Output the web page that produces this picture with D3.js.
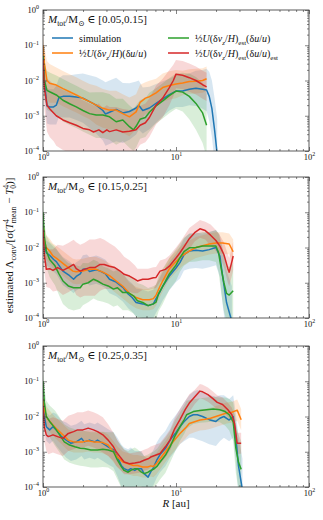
<!DOCTYPE html>
<html>
<head>
<meta charset="utf-8">
<script src="https://cdn.jsdelivr.net/npm/d3@7"></script>
<style>
  body { margin: 0; background: #fff; }
  svg text { font-family: "Liberation Serif", "DejaVu Serif", serif; fill: #111; }
</style>
</head>
<body>
<div class="chart"></div>
<script>
// each point: [log10 R, log10 value, half width of the shaded band in decades]
const p1Sim = [[0,-1.1,0.3],[0.01,-2.0,0.4],[0.03,-2.72,0.5],[0.05,-2.75,0.5],[0.08,-2.75,0.5],[0.1,-2.7,0.55],[0.12,-2.48,0.55],[0.15,-2.45,0.6],[0.2,-2.45,0.6],[0.25,-2.47,0.65],[0.3,-2.5,0.7],[0.35,-2.6,0.75],[0.4,-2.7,0.8],[0.45,-2.85,0.85],[0.47,-2.95,0.9],[0.5,-2.9,0.9],[0.55,-2.82,0.9],[0.6,-2.92,0.85],[0.65,-2.88,0.8],[0.7,-2.78,0.75],[0.72,-2.7,0.7],[0.75,-2.85,0.65],[0.8,-2.78,0.6],[0.85,-2.65,0.55],[0.9,-2.52,0.5],[0.95,-2.4,0.45],[1.0,-2.3,0.45],[1.05,-2.3,0.45],[1.1,-2.25,0.45],[1.15,-2.22,0.5],[1.2,-2.25,0.55],[1.23,-2.27,0.6],[1.25,-2.45,0.7],[1.27,-2.8,0.8],[1.29,-3.4,0.9],[1.31,-4.1,1.0]];
const p1Half = [[0,-1.0,0.3],[0.01,-1.5,0.45],[0.03,-2.0,0.55],[0.05,-2.08,0.55],[0.1,-2.13,0.5],[0.15,-2.23,0.5],[0.2,-2.32,0.5],[0.25,-2.41,0.5],[0.3,-2.51,0.5],[0.35,-2.6,0.5],[0.4,-2.7,0.55],[0.45,-2.79,0.55],[0.5,-2.84,0.55],[0.55,-2.84,0.55],[0.6,-2.94,0.55],[0.65,-3.03,0.55],[0.7,-2.89,0.5],[0.73,-2.62,0.5],[0.77,-2.5,0.45],[0.8,-2.46,0.45],[0.85,-2.35,0.4],[0.9,-2.2,0.4],[0.95,-2.14,0.4],[1.0,-2.1,0.4],[1.05,-2.07,0.35],[1.1,-2.03,0.35],[1.15,-2.02,0.35],[1.2,-2.0,0.35],[1.23,-1.95,0.35]];
const p1EstV = [[0,-1.3,0.3],[0.01,-2.0,0.5],[0.03,-2.28,0.55],[0.05,-2.32,0.55],[0.1,-2.41,0.55],[0.15,-2.56,0.6],[0.2,-2.66,0.6],[0.25,-2.75,0.6],[0.3,-2.85,0.6],[0.35,-2.94,0.6],[0.4,-2.98,0.65],[0.45,-2.98,0.65],[0.5,-3.03,0.65],[0.55,-3.17,0.65],[0.6,-3.12,0.6],[0.65,-3.31,0.6],[0.68,-3.4,0.6],[0.7,-3.3,0.6],[0.73,-3.1,0.55],[0.77,-3.05,0.55],[0.8,-2.9,0.55],[0.85,-2.72,0.5],[0.9,-2.58,0.5],[0.95,-2.43,0.5],[1.0,-2.3,0.5],[1.05,-2.33,0.55],[1.1,-2.45,0.65],[1.15,-2.65,0.75],[1.2,-2.92,0.85],[1.23,-3.27,0.9]];
const p1EstVU = [[0,-1.4,0.4],[0.01,-2.2,0.6],[0.03,-2.7,0.75],[0.05,-2.8,0.8],[0.08,-2.92,0.8],[0.1,-3.0,0.85],[0.15,-3.12,0.85],[0.2,-3.2,0.85],[0.25,-3.27,0.8],[0.3,-3.36,0.8],[0.35,-3.4,0.75],[0.38,-3.46,0.75],[0.42,-3.4,0.75],[0.45,-3.48,0.7],[0.48,-3.4,0.7],[0.5,-3.45,0.7],[0.55,-3.4,0.65],[0.6,-3.46,0.65],[0.65,-3.44,0.6],[0.7,-3.4,0.6],[0.73,-3.27,0.55],[0.77,-3.2,0.55],[0.8,-3.05,0.55],[0.85,-2.7,0.55],[0.9,-2.5,0.55],[0.95,-2.2,0.5],[0.98,-2.0,0.45],[1.0,-1.82,0.4],[1.05,-1.85,0.4],[1.1,-1.92,0.4],[1.15,-2.0,0.4],[1.2,-2.12,0.4],[1.23,-2.18,0.4]];

const p2Sim = [[0,-1.4,0.3],[0.01,-1.9,0.35],[0.025,-2.15,0.35],[0.05,-2.22,0.35],[0.08,-2.34,0.35],[0.1,-2.4,0.35],[0.15,-2.67,0.4],[0.2,-2.8,0.4],[0.23,-2.9,0.4],[0.25,-2.82,0.4],[0.28,-2.75,0.4],[0.3,-2.62,0.4],[0.33,-2.6,0.4],[0.35,-2.68,0.4],[0.4,-2.63,0.4],[0.43,-2.67,0.4],[0.47,-2.75,0.4],[0.5,-2.9,0.4],[0.55,-2.98,0.4],[0.6,-3.13,0.4],[0.64,-3.32,0.4],[0.67,-3.42,0.4],[0.7,-3.56,0.4],[0.75,-3.6,0.4],[0.79,-3.65,0.4],[0.83,-3.6,0.4],[0.85,-3.45,0.4],[0.88,-3.25,0.4],[0.9,-3.1,0.4],[0.95,-2.81,0.4],[1.0,-2.58,0.4],[1.03,-2.43,0.45],[1.06,-2.2,0.45],[1.1,-2.1,0.5],[1.15,-2.08,0.5],[1.2,-2.1,0.5],[1.25,-2.06,0.5],[1.3,-2.0,0.5],[1.33,-2.24,0.6],[1.35,-2.8,0.8],[1.38,-3.56,0.9],[1.42,-4.1,1.0]];
const p2Half = [[0,-1.3,0.3],[0.01,-1.8,0.35],[0.025,-2.0,0.35],[0.05,-2.1,0.35],[0.075,-2.24,0.35],[0.1,-2.3,0.35],[0.15,-2.45,0.35],[0.2,-2.6,0.35],[0.225,-2.67,0.35],[0.25,-2.69,0.35],[0.3,-2.67,0.35],[0.35,-2.62,0.35],[0.4,-2.62,0.35],[0.45,-2.7,0.35],[0.5,-2.8,0.35],[0.55,-2.95,0.35],[0.6,-3.1,0.35],[0.65,-3.3,0.3],[0.7,-3.42,0.3],[0.75,-3.48,0.3],[0.8,-3.48,0.3],[0.83,-3.45,0.3],[0.85,-3.35,0.3],[0.88,-3.1,0.3],[0.9,-2.95,0.3],[0.95,-2.6,0.3],[1.0,-2.4,0.3],[1.05,-2.22,0.3],[1.1,-2.1,0.3],[1.15,-2.0,0.3],[1.2,-1.95,0.3],[1.25,-1.9,0.3],[1.3,-1.87,0.3],[1.35,-1.87,0.3],[1.4,-1.9,0.3],[1.43,-2.12,0.35]];
const p2EstV = [[0,-1.0,0.3],[0.01,-1.7,0.4],[0.025,-2.1,0.45],[0.05,-2.34,0.5],[0.09,-2.52,0.55],[0.12,-2.75,0.6],[0.15,-2.95,0.65],[0.19,-3.09,0.65],[0.23,-3.14,0.65],[0.28,-3.14,0.6],[0.3,-3.04,0.6],[0.34,-3.0,0.55],[0.38,-2.9,0.55],[0.41,-2.95,0.55],[0.45,-3.04,0.5],[0.49,-3.09,0.5],[0.53,-3.18,0.5],[0.56,-3.14,0.5],[0.6,-3.28,0.5],[0.64,-3.28,0.5],[0.68,-3.37,0.5],[0.71,-3.51,0.5],[0.75,-3.56,0.5],[0.79,-3.65,0.5],[0.83,-3.6,0.5],[0.85,-3.55,0.5],[0.87,-3.3,0.5],[0.9,-3.1,0.5],[0.95,-2.75,0.45],[1.0,-2.5,0.45],[1.03,-2.29,0.4],[1.06,-2.12,0.4],[1.1,-2.01,0.4],[1.15,-2.0,0.4],[1.2,-1.96,0.4],[1.25,-1.96,0.4],[1.3,-1.96,0.45],[1.32,-2.15,0.55],[1.34,-2.6,0.7],[1.36,-3.0,0.8],[1.38,-3.3,0.8],[1.4,-3.35,0.8],[1.43,-3.23,0.8]];
const p2EstVU = [[0,-1.5,0.3],[0.01,-2.2,0.45],[0.025,-2.62,0.5],[0.05,-2.6,0.55],[0.075,-2.65,0.6],[0.11,-2.57,0.65],[0.15,-2.65,0.7],[0.19,-2.57,0.7],[0.23,-2.48,0.7],[0.25,-2.6,0.75],[0.28,-2.67,0.75],[0.31,-2.62,0.75],[0.35,-2.57,0.8],[0.39,-2.57,0.8],[0.43,-2.48,0.75],[0.46,-2.48,0.7],[0.5,-2.53,0.65],[0.54,-2.57,0.6],[0.58,-2.67,0.55],[0.61,-2.76,0.5],[0.65,-2.81,0.45],[0.69,-2.9,0.4],[0.71,-2.95,0.35],[0.75,-2.9,0.3],[0.79,-2.9,0.3],[0.83,-2.86,0.3],[0.85,-2.85,0.3],[0.88,-2.67,0.3],[0.92,-2.62,0.3],[0.95,-2.53,0.3],[1.0,-2.3,0.3],[1.03,-2.15,0.3],[1.06,-1.98,0.3],[1.1,-1.75,0.3],[1.14,-1.58,0.25],[1.18,-1.47,0.25],[1.22,-1.52,0.25],[1.26,-1.65,0.3],[1.3,-1.8,0.3],[1.33,-1.96,0.3],[1.36,-2.2,0.35],[1.39,-2.6,0.4],[1.4,-2.7,0.4],[1.42,-2.4,0.4],[1.43,-2.24,0.4]];

const p3Sim = [[0,-1.5,0.3],[0.01,-2.0,0.35],[0.025,-2.29,0.4],[0.05,-2.38,0.4],[0.075,-2.29,0.4],[0.1,-2.38,0.45],[0.14,-2.57,0.45],[0.175,-2.67,0.5],[0.21,-2.76,0.5],[0.25,-2.72,0.5],[0.29,-2.62,0.5],[0.31,-2.72,0.5],[0.35,-2.67,0.5],[0.39,-2.72,0.5],[0.41,-2.67,0.5],[0.45,-2.76,0.5],[0.49,-2.86,0.5],[0.53,-2.95,0.5],[0.56,-3.15,0.55],[0.59,-3.4,0.6],[0.61,-3.48,0.6],[0.64,-3.53,0.6],[0.66,-3.48,0.6],[0.69,-3.53,0.55],[0.71,-3.48,0.5],[0.74,-3.48,0.5],[0.76,-3.62,0.5],[0.79,-3.72,0.5],[0.81,-3.57,0.5],[0.83,-3.45,0.5],[0.855,-3.24,0.5],[0.88,-3.08,0.5],[0.92,-2.91,0.5],[0.955,-2.67,0.5],[1.0,-2.45,0.5],[1.03,-2.29,0.5],[1.06,-2.15,0.55],[1.1,-2.0,0.6],[1.13,-1.95,0.65],[1.16,-1.95,0.7],[1.2,-2.0,0.7],[1.25,-2.09,0.7],[1.3,-2.14,0.7],[1.33,-2.05,0.65],[1.36,-2.0,0.6],[1.4,-2.1,0.6],[1.43,-2.0,0.6],[1.45,-2.6,0.7],[1.47,-3.4,0.8],[1.5,-4.1,0.9]];
const p3Half = [[0,-1.5,0.3],[0.01,-1.8,0.3],[0.025,-2.0,0.3],[0.04,-2.09,0.3],[0.075,-2.24,0.3],[0.11,-2.38,0.3],[0.15,-2.52,0.3],[0.19,-2.67,0.3],[0.23,-2.72,0.3],[0.3,-2.72,0.3],[0.34,-2.69,0.3],[0.38,-2.72,0.3],[0.41,-2.72,0.3],[0.45,-2.74,0.3],[0.49,-2.81,0.3],[0.53,-3.0,0.3],[0.56,-3.15,0.3],[0.6,-3.29,0.3],[0.64,-3.34,0.3],[0.68,-3.39,0.3],[0.71,-3.39,0.3],[0.75,-3.43,0.3],[0.79,-3.43,0.3],[0.81,-3.4,0.3],[0.83,-3.42,0.3],[0.85,-3.35,0.3],[0.88,-3.2,0.3],[0.92,-3.0,0.3],[0.955,-2.82,0.3],[1.0,-2.62,0.3],[1.03,-2.48,0.3],[1.07,-2.33,0.3],[1.1,-2.2,0.3],[1.14,-2.15,0.3],[1.18,-2.1,0.3],[1.22,-2.08,0.3],[1.26,-2.05,0.3],[1.3,-2.0,0.3],[1.34,-1.95,0.3],[1.38,-1.9,0.3],[1.42,-1.88,0.3],[1.46,-1.82,0.3],[1.49,-2.09,0.3]];
const p3EstV = [[0,-1.0,0.3],[0.01,-1.6,0.4],[0.025,-2.0,0.45],[0.05,-2.14,0.45],[0.09,-2.33,0.5],[0.125,-2.52,0.5],[0.16,-2.72,0.5],[0.2,-2.81,0.5],[0.24,-2.86,0.5],[0.28,-2.9,0.5],[0.31,-2.91,0.5],[0.36,-2.95,0.5],[0.41,-2.95,0.5],[0.45,-2.93,0.5],[0.49,-2.95,0.5],[0.53,-3.0,0.55],[0.56,-3.24,0.55],[0.59,-3.43,0.6],[0.61,-3.53,0.6],[0.64,-3.58,0.6],[0.66,-3.53,0.6],[0.69,-3.48,0.6],[0.71,-3.48,0.55],[0.74,-3.58,0.55],[0.76,-3.62,0.5],[0.79,-3.58,0.5],[0.81,-3.53,0.5],[0.83,-3.5,0.5],[0.86,-3.4,0.5],[0.88,-3.29,0.5],[0.92,-3.1,0.5],[0.955,-2.86,0.45],[0.99,-2.57,0.45],[1.03,-2.29,0.4],[1.06,-2.1,0.4],[1.08,-1.95,0.4],[1.13,-1.86,0.35],[1.18,-1.83,0.35],[1.23,-1.81,0.35],[1.28,-1.79,0.35],[1.33,-1.81,0.35],[1.37,-1.86,0.4],[1.4,-1.95,0.45],[1.43,-2.15,0.55],[1.45,-2.9,0.7],[1.47,-3.3,0.8],[1.49,-3.5,0.8]];
const p3EstVU = [[0,-1.7,0.3],[0.01,-2.3,0.4],[0.025,-2.52,0.45],[0.04,-2.57,0.5],[0.075,-2.52,0.5],[0.11,-2.57,0.5],[0.15,-2.62,0.5],[0.19,-2.48,0.5],[0.23,-2.43,0.5],[0.26,-2.38,0.5],[0.3,-2.38,0.5],[0.34,-2.33,0.5],[0.38,-2.38,0.5],[0.41,-2.43,0.5],[0.45,-2.52,0.5],[0.49,-2.67,0.45],[0.53,-2.86,0.4],[0.55,-3.0,0.4],[0.58,-3.15,0.35],[0.61,-3.29,0.35],[0.65,-3.34,0.3],[0.69,-3.32,0.3],[0.73,-3.29,0.3],[0.76,-3.24,0.3],[0.79,-3.2,0.3],[0.81,-3.15,0.3],[0.83,-3.12,0.3],[0.88,-3.05,0.3],[0.92,-2.86,0.3],[0.955,-2.67,0.3],[0.99,-2.35,0.3],[1.03,-2.09,0.3],[1.07,-1.8,0.25],[1.1,-1.62,0.25],[1.14,-1.45,0.2],[1.18,-1.28,0.2],[1.2,-1.3,0.2],[1.24,-1.38,0.2],[1.28,-1.5,0.2],[1.31,-1.6,0.2],[1.35,-1.66,0.2],[1.39,-1.81,0.2],[1.42,-1.95,0.2],[1.44,-2.2,0.25],[1.46,-2.76,0.3],[1.49,-2.76,0.3]];

const SERIES_COLORS = ["#1f77b4", "#ff7f0e", "#2ca02c", "#d62728"];
const MASS_BINS = ["[0.05,0.15]", "[0.15,0.25]", "[0.25,0.35]"];
const PANEL_SERIES = [
  [p1Sim, p1Half, p1EstV, p1EstVU],
  [p2Sim, p2Half, p2EstV, p2EstVU],
  [p3Sim, p3Half, p3EstV, p3EstVU]
];
const X_DOMAIN = [1, 100];
const Y_DOMAIN = [1e-4, 1];
const X_MAJOR = [1, 10, 100];
const Y_MAJOR = [1e-4, 1e-3, 1e-2, 1e-1, 1];

// legend label pieces: [text, kind] kind: i italic, sub/sup, subi italic sub
const LEGEND_LABELS = [
  [["simulation"]],
  [["½"], ["U", "i"], ["(δ"], ["v", "i"], ["z", "subi"], ["/"], ["H", "i"], [")(δ"], ["u", "i"], ["/"], ["u", "i"], [")"]],
  [["½"], ["U", "i"], ["(δ"], ["v", "i"], ["z", "subi"], ["/"], ["H", "i"], [")"], ["est", "sub"], ["(δ"], ["u", "i"], ["/"], ["u", "i"], [")"]],
  [["½"], ["U", "i"], ["(δ"], ["v", "i"], ["z", "subi"], ["/"], ["H", "i"], [")"], ["est", "sub"], ["(δ"], ["u", "i"], ["/"], ["u", "i"], [")"], ["est", "sub"]]
];

let FRAME_WIDTH = 323;
let FRAME_HEIGHT = 520;
let MARGINS = {left: 43, right: 14};
let PANEL_TOPS = [10, 177, 346];
let PANEL_HEIGHT = 141;
let PLOT_WIDTH = FRAME_WIDTH - MARGINS.left - MARGINS.right;

let FRAME = d3.select(".chart")
              .append("svg")
              .attr("width", FRAME_WIDTH)
              .attr("height", FRAME_HEIGHT);

const X_SCALE = d3.scaleLog().domain(X_DOMAIN).range([0, PLOT_WIDTH]);
const Y_SCALE = d3.scaleLog().domain(Y_DOMAIN).range([PANEL_HEIGHT, 0]);

// minor tick positions 2..9 within each decade
let xMinor = [], yMinor = [];
for (let d = 1; d < 100; d *= 10) for (let k = 2; k < 10; k++) xMinor.push(k * d);
for (let d = 1e-4; d < 0.99; d *= 10) for (let k = 2; k < 10; k++) yMinor.push(k * d);

// writes mixed italic / sub / sup pieces into a text element
function richText(sel, segs, size) {
  let off = 0;
  segs.forEach((s) => {
    let txt = s[0], kind = s[1] || "";
    let target = kind.includes("sub") ? size * 0.3 : (kind.includes("sup") ? -size * 0.4 : 0);
    let t = sel.append("tspan").attr("dy", target - off).text(txt);
    off = target;
    if (target !== 0) t.attr("font-size", size * 0.7);
    if (kind.includes("i")) t.style("font-style", "italic");
    if (s[2]) t.attr("dx", s[2]);
  });
}

function powerLabels(axisG, size) {
  axisG.selectAll(".tick text").each(function(d) {
    let e = Math.round(Math.log10(d));
    let t = d3.select(this).text(null).attr("font-size", size).attr("fill", "#111");
    t.append("tspan").text("10");
    t.append("tspan").attr("dy", -size * 0.45).attr("font-size", size * 0.7)
      .text(e < 0 ? "−" + Math.abs(e) : String(e));
  });
}

const area = d3.area()
  .x((d) => X_SCALE(Math.pow(10, d[0])))
  .y0((d) => Y_SCALE(Math.pow(10, Math.max(d[1] - d[2], -6))))
  .y1((d) => Y_SCALE(Math.pow(10, d[1] + d[2])));
const line = d3.line()
  .x((d) => X_SCALE(Math.pow(10, d[0])))
  .y((d) => Y_SCALE(Math.pow(10, Math.max(d[1], -6))));

PANEL_SERIES.forEach((series, p) => {
  let g = FRAME.append("g")
    .attr("transform", "translate(" + MARGINS.left + "," + PANEL_TOPS[p] + ")");

  g.append("clipPath").attr("id", "clip" + p)
    .append("rect").attr("width", PLOT_WIDTH).attr("height", PANEL_HEIGHT);

  let plot = g.append("g").attr("clip-path", "url(#clip" + p + ")");

  // shaded spread first, then the lines on top
  series.forEach((s, i) => {
    plot.append("path").datum(s)
      .attr("d", area)
      .attr("fill", SERIES_COLORS[i])
      .attr("fill-opacity", 0.18)
      .attr("stroke", "none");
  });
  series.forEach((s, i) => {
    plot.append("path").datum(s)
      .attr("d", line)
      .attr("fill", "none")
      .attr("stroke", SERIES_COLORS[i])
      .attr("stroke-width", 1.5)
      .attr("stroke-linejoin", "round");
  });

  // axes, ticks pointing inward on all four sides
  let xb = g.append("g").attr("transform", "translate(0," + PANEL_HEIGHT + ")")
    .call(d3.axisBottom(X_SCALE).tickValues(X_MAJOR).tickSizeInner(-4).tickSizeOuter(0).tickPadding(3));
  powerLabels(xb, 8.5);
  g.append("g").attr("transform", "translate(0," + PANEL_HEIGHT + ")")
    .call(d3.axisBottom(X_SCALE).tickValues(xMinor).tickFormat("").tickSizeInner(-2).tickSizeOuter(0));
  g.append("g")
    .call(d3.axisTop(X_SCALE).tickValues(X_MAJOR).tickFormat("").tickSizeInner(-4).tickSizeOuter(0));
  g.append("g")
    .call(d3.axisTop(X_SCALE).tickValues(xMinor).tickFormat("").tickSizeInner(-2).tickSizeOuter(0));

  let yl = g.append("g")
    .call(d3.axisLeft(Y_SCALE).tickValues(Y_MAJOR).tickSizeInner(-4).tickSizeOuter(0).tickPadding(4));
  powerLabels(yl, 8.5);
  g.append("g")
    .call(d3.axisLeft(Y_SCALE).tickValues(yMinor).tickFormat("").tickSizeInner(-2).tickSizeOuter(0));
  g.append("g").attr("transform", "translate(" + PLOT_WIDTH + ",0)")
    .call(d3.axisRight(Y_SCALE).tickValues(Y_MAJOR).tickFormat("").tickSizeInner(-4).tickSizeOuter(0));
  g.append("g").attr("transform", "translate(" + PLOT_WIDTH + ",0)")
    .call(d3.axisRight(Y_SCALE).tickValues(yMinor).tickFormat("").tickSizeInner(-2).tickSizeOuter(0));

  g.selectAll(".domain").remove();
  g.selectAll(".tick line").attr("stroke", "#333").attr("stroke-width", 0.6);

  g.append("rect")
    .attr("width", PLOT_WIDTH).attr("height", PANEL_HEIGHT)
    .attr("fill", "none").attr("stroke", "#333").attr("stroke-width", 0.8);

  // mass bin label
  let lab = g.append("text").attr("x", 5).attr("y", 13).attr("font-size", 11);
  richText(lab, [["M", "i"], ["tot", "sub"], ["/M"], ["⊙", "sub"], [" ∈ " + MASS_BINS[p]]], 11);

  // legend only in the first panel
  if (p === 0) {
    const LEG_POS = [[9, 28], [9, 43], [125, 28], [125, 43]];
    LEGEND_LABELS.forEach((segs, i) => {
      let lx = LEG_POS[i][0], ly = LEG_POS[i][1];
      g.append("line")
        .attr("x1", lx).attr("x2", lx + 21)
        .attr("y1", ly).attr("y2", ly)
        .attr("stroke", SERIES_COLORS[i]).attr("stroke-width", 1.5);
      let t = g.append("text").attr("x", lx + 27).attr("y", ly + 3.5).attr("font-size", 10);
      richText(t, segs, 10);
    });
  }
});

// shared axis titles
let xt = FRAME.append("text")
  .attr("x", MARGINS.left + PLOT_WIDTH / 2)
  .attr("y", 507)
  .attr("text-anchor", "middle")
  .attr("font-size", 11);
richText(xt, [["R", "i"], [" [au]"]], 11);

let yt = FRAME.append("text")
  .attr("transform", "rotate(-90)")
  .attr("x", -(PANEL_TOPS[1] + PANEL_HEIGHT / 2 - 2))
  .attr("y", 13)
  .attr("text-anchor", "middle")
  .attr("font-size", 11);
richText(yt, [["estimated Λ"], ["conv", "sub"], ["/[σ("], ["T", "i"], ["4", "sup"], ["mean", "sub", -4], [" − "], ["T", "i"], ["4", "sup"], ["0", "sub", -4], [")]"]], 11);
</script>
</body>
</html>
